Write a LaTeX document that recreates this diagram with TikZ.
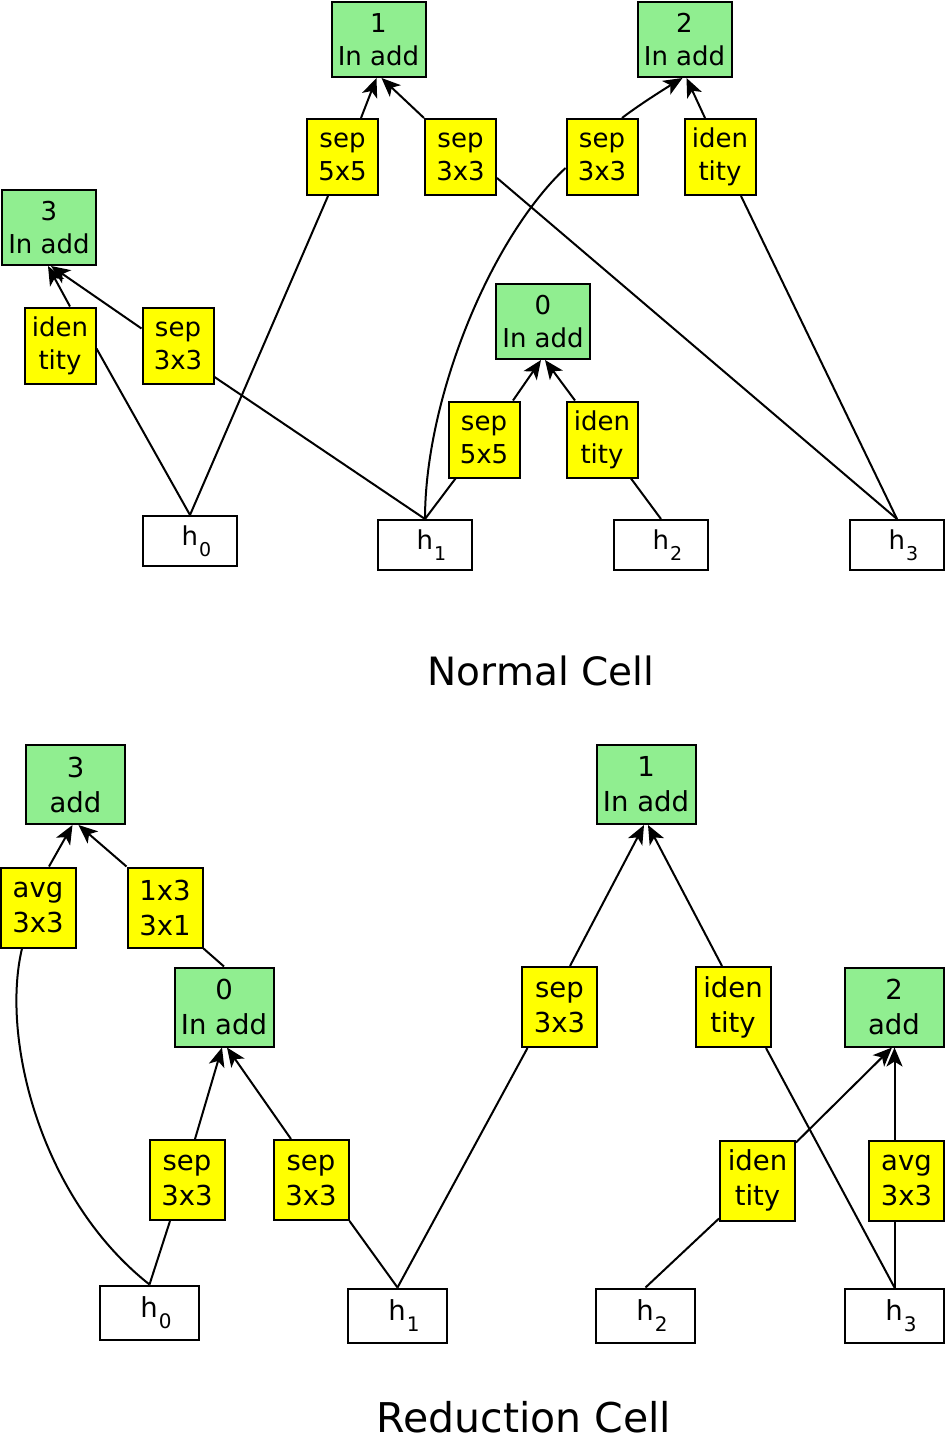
\documentclass[tikz,border=0pt]{standalone}
\usepackage{fontspec}
\setmainfont{DejaVu Sans}
\usetikzlibrary{arrows.meta,calc}
\newcommand{\hsub}[2]{\hspace*{13pt}h\kern1pt\raisebox{-11pt}{\fontsize{#2}{#2}\selectfont #1}}
\begin{document}
\begin{tikzpicture}[x=1pt,y=-1pt,
  base/.style={draw=black,line width=2pt,inner sep=0pt,align=center},
  gbox/.style={base,fill=lightgreen,minimum width=94pt,minimum height=75pt,font=\fontsize{26}{33}\selectfont},
  ybox/.style={base,fill=yellow,minimum width=71pt,minimum height=76pt,font=\fontsize{26}{33}\selectfont},
  hbox/.style={base,fill=white,minimum width=94pt,minimum height=50pt,font=\fontsize{26}{33}\selectfont},
  rgbox/.style={base,fill=lightgreen,minimum width=99pt,minimum height=79pt,font=\fontsize{27.5}{35}\selectfont},
  rybox/.style={base,fill=yellow,minimum width=75pt,minimum height=80pt,font=\fontsize{27.5}{35}\selectfont},
  rhbox/.style={base,fill=white,minimum width=99pt,minimum height=54pt,font=\fontsize{27.5}{35}\selectfont},
  edge/.style={line width=2pt},
  arr/.style={line width=2pt,-{Stealth[length=19pt,width=16pt,inset=5pt]}},
]
\definecolor{lightgreen}{HTML}{90EE90}
\definecolor{yellow}{HTML}{FFFF00}
\useasboundingbox (0,0) rectangle (946,1440);

% ---------------- Normal cell ----------------
\node[gbox] (g1) at (378.5,39.5) {1\\In add};
\node[gbox] (g2) at (684.5,39.5) {2\\In add};
\node[gbox] (g3) at (49,227.5) {3\\In add};
\node[gbox] (g0) at (543,321.5) {0\\In add};
\node[ybox] (yA) at (342.5,157) {sep\\5x5};
\node[ybox] (yB) at (460.5,157) {sep\\3x3};
\node[ybox] (yC) at (602,157) {sep\\3x3};
\node[ybox] (yD) at (720,157) {iden\\tity};
\node[ybox] (yE) at (60,345.5) {iden\\tity};
\node[ybox] (yF) at (178,345.5) {sep\\3x3};
\node[ybox] (yG) at (484,439.5) {sep\\5x5};
\node[ybox] (yH) at (602,439.5) {iden\\tity};
\node[hbox] (h0) at (190,541) {\hsub{0}{19}};
\node[hbox] (h1) at (425,545) {\hsub{1}{19}};
\node[hbox] (h2) at (661,545) {\hsub{2}{19}};
\node[hbox] (h3) at (897,545) {\hsub{3}{19}};
\node[font=\fontsize{39}{45}\selectfont] (tn) at (541,671) {Normal Cell};

\draw[edge] (h0.north) -- ($(yE.east)+(0,3)$);
\draw[edge] (h0.north) -- ($(yA.south)+(-14.5,0)$);
\draw[edge] (h1.north) -- ($(yF.east)+(0,31.5)$);
\draw[edge] (h1.north) .. controls ($(h1.north)+(0,-120)$) and ($(h1.north)+(65,-280)$) .. ($(yC.west)+(0,11)$);
\draw[edge] (h1.north) -- ($(yG.south west)+(8,0)$);
\draw[edge] (h3.north) -- ($(yB.east)+(0,21)$);
\draw[edge] (h3.north) -- ($(yD.south)+(21,0)$);
\draw[edge] (h2.north) -- ($(yH.south)+(29,0)$);

\draw[arr] ($(yA.north)+(18.5,0)$) -- ($(g1.south)+(-2,0)$);
\draw[arr] (yB.north west) -- ($(g1.south)+(3,0)$);
\draw[arr] ($(yC.north)+(20,0)$) .. controls ($(yC.north)+(38,-14)$) and ($(g2.south)+(-12,6)$) .. ($(g2.south)+(-2,0)$);
\draw[arr] ($(yD.north)+(-15,0)$) -- ($(g2.south)+(2,0)$);
\draw[arr] ($(yE.north)+(10,0)$) -- ($(g3.south)+(-1,0)$);
\draw[arr] ($(yF.west)+(0,-17)$) -- ($(g3.south)+(2,0)$);
\draw[arr] ($(yG.north)+(29,0)$) -- ($(g0.south)+(-2,0)$);
\draw[arr] ($(yH.north)+(-27,0)$) -- ($(g0.south)+(2,0)$);

% ---------------- Reduction cell ----------------
\node[rgbox] (r3) at (75.5,784.5) {3\\add};
\node[rgbox] (r1) at (646,784.5) {1\\In add};
\node[rgbox] (r0) at (224,1007) {0\\In add};
\node[rgbox] (r2) at (894,1007) {2\\add};
\node[rybox] (ra) at (38,907.5) {avg\\3x3};
\node[rybox] (rb) at (165,907.5) {1x3\\3x1};
\node[rybox] (rc) at (187,1180) {sep\\3x3};
\node[rybox] (rd) at (311,1180) {sep\\3x3};
\node[rybox] (re) at (559.5,1007) {sep\\3x3};
\node[rybox] (rf) at (733,1007) {iden\\tity};
\node[rybox] (rg) at (757.5,1180.5) {iden\\tity};
\node[rybox] (rh) at (906.5,1180.5) {avg\\3x3};
\node[rhbox] (q0) at (149.5,1312.5) {\hsub{0}{20}};
\node[rhbox] (q1) at (397.5,1315.5) {\hsub{1}{20}};
\node[rhbox] (q2) at (645.5,1315.5) {\hsub{2}{20}};
\node[rhbox] (q3) at (894.5,1315.5) {\hsub{3}{20}};
\node[font=\fontsize{41}{47}\selectfont] (tr) at (524,1417) {Reduction Cell};

\draw[arr] ($(ra.north)+(11,0)$) -- ($(r3.south)+(-3,0)$);
\draw[arr] (rb.north west) -- ($(r3.south)+(3,0)$);
\draw[edge] (r0.north) -- (rb.south east);
\draw[edge] (q0.north) .. controls ($(q0.north)+(-109,-86)$) and ($(q0.north)+(-149,-246)$) .. ($(ra.south)+(-16,0)$);
\draw[edge] (q0.north) -- ($(rc.south)+(-17,0)$);
\draw[arr] ($(rc.north)+(8,0)$) -- ($(r0.south)+(-2,0)$);
\draw[arr] ($(rd.north)+(-20,0)$) -- ($(r0.south)+(3,0)$);
\draw[edge] (q1.north) -- (rd.south east);
\draw[edge] (q1.north) -- ($(re.south)+(-32,0)$);
\draw[arr] ($(re.north)+(10.5,0)$) -- ($(r1.south)+(-2,0)$);
\draw[arr] ($(rf.north)+(-11,0)$) -- ($(r1.south)+(2,0)$);
\draw[edge] (q3.north) -- ($(rf.south)+(33,0)$);
\draw[edge] (q2.north) -- ($(rg.south west)+(0,-3)$);
\draw[arr] ($(rg.north east)+(0,3)$) -- ($(r2.south)+(-2,0)$);
\draw[arr] ($(rh.north)+(-12,0)$) -- ($(r2.south)+(0.5,0)$);
\draw[edge] (q3.north) -- ($(rh.south)+(-12,0)$);
\end{tikzpicture}
\end{document}
